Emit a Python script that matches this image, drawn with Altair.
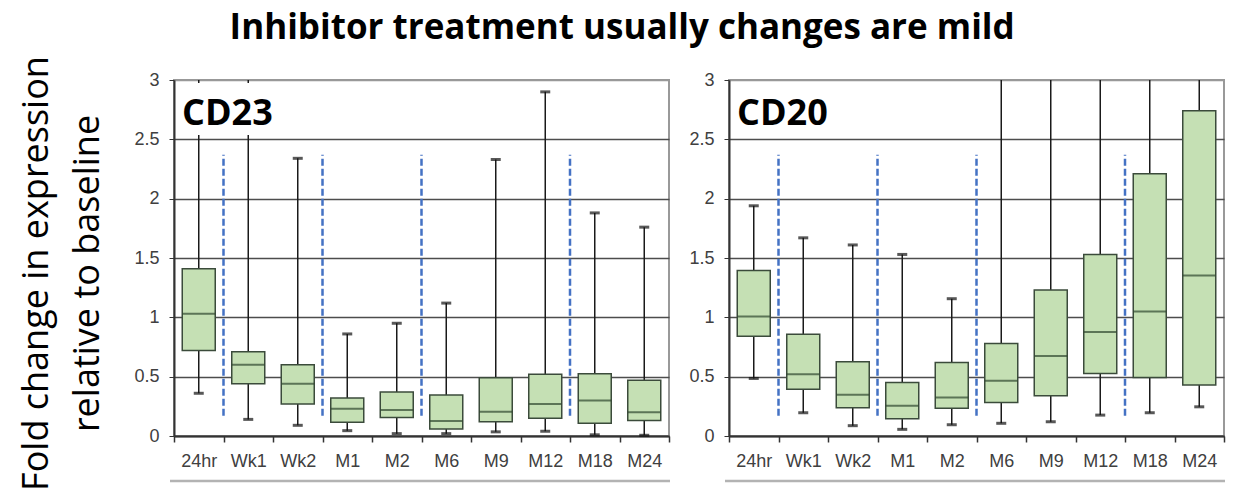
import altair as alt
import pandas as pd

categories = ["24hr", "Wk1", "Wk2", "M1", "M2", "M6", "M9", "M12", "M18", "M24"]

# CD23 box statistics (upper whiskers above 3 run off the top of the plot)
cd23_low = [0.36, 0.14, 0.09, 0.045, 0.02, 0.02, 0.035, 0.04, 0.01, 0.006]
cd23_q1 = [0.72, 0.44, 0.27, 0.115, 0.155, 0.06, 0.12, 0.15, 0.107, 0.13]
cd23_median = [1.03, 0.60, 0.44, 0.23, 0.22, 0.126, 0.205, 0.27, 0.30, 0.20]
cd23_q3 = [1.41, 0.71, 0.60, 0.32, 0.37, 0.345, 0.49, 0.52, 0.525, 0.47]
cd23_high = [3.4, 3.4, 2.34, 0.86, 0.95, 1.12, 2.33, 2.90, 1.88, 1.76]

# CD20 box statistics
cd20_low = [0.485, 0.196, 0.087, 0.056, 0.095, 0.107, 0.12, 0.176, 0.196, 0.246]
cd20_q1 = [0.84, 0.395, 0.238, 0.146, 0.233, 0.283, 0.34, 0.527, 0.493, 0.43]
cd20_median = [1.006, 0.52, 0.347, 0.255, 0.325, 0.465, 0.675, 0.877, 1.05, 1.353]
cd20_q3 = [1.395, 0.857, 0.625, 0.45, 0.62, 0.78, 1.23, 1.53, 2.21, 2.74]
cd20_high = [1.94, 1.67, 1.61, 1.53, 1.157, 3.4, 3.4, 3.4, 3.4, 3.4]

# dashed separators (placed at the left edge of these categories)
period_breaks = ["Wk1", "M1", "M6", "M18"]
break_low = 0.17
break_high = 2.37

y_ticks = [0, 0.5, 1, 1.5, 2, 2.5, 3]

W, H = 495, 356
LABEL_FONT = "Liberation Sans"


def panel(name, low, q1, med, q3, high, with_title):
    df = pd.DataFrame({"cat": categories, "low": low, "q1": q1,
                       "med": med, "q3": q3, "high": high})
    xscale = alt.Scale(domain=categories, paddingInner=0, paddingOuter=0)
    xaxis = alt.Axis(title=None, labelAngle=0, tickBand="extent", grid=False,
                     labelFont=LABEL_FONT, labelFontSize=18, labelColor="#404040",
                     tickSize=6, tickColor="#333333", tickWidth=1.5,
                     domainColor="#333333", domainWidth=2, labelPadding=10)
    yscale = alt.Scale(domain=[0, 3], nice=False)
    yaxis_kw = dict(values=y_ticks, format="~g", grid=True,
                    gridColor=alt.condition("datum.value == 3", alt.value("#999999"), alt.value("#4d4d4d")),
                    gridWidth=1.5, tickSize=5, tickColor="#333333", labelPadding=10,
                    labelFont=LABEL_FONT, labelFontSize=18, labelColor="#404040",
                    domainColor="#333333", domainWidth=2)
    if with_title:
        yaxis = alt.Axis(title=["Fold change in expression", "relative to baseline"],
                         titleFont="Open Sans", titleFontSize=36, titleFontWeight="normal",
                         titleColor="black", titleAngle=270, titleBaseline="alphabetic",
                         titleAlign="center", titleX=-127, titleY=193, titleLineHeight=51,
                         **yaxis_kw)
    else:
        yaxis = alt.Axis(title=None, **yaxis_kw)

    X = alt.X("cat:N", scale=xscale, axis=xaxis)
    base = alt.Chart(df)

    whisk = base.mark_rule(color="#1a1a1a", strokeWidth=1.5, clip=True).encode(
        x=X, y=alt.Y("low:Q", scale=yscale, axis=yaxis), y2="high:Q")
    cap_lo = base.mark_tick(color="#111111", size=10, thickness=3).encode(
        x=X, y=alt.Y("low:Q", scale=yscale))
    cap_hi = base.mark_tick(color="#111111", size=10, thickness=3, clip=True).encode(
        x=X, y=alt.Y("high:Q", scale=yscale))
    box = base.mark_bar(size=33, fill="#c5e0b4", stroke="#3b4b3b", strokeWidth=1.5).encode(
        x=X, y=alt.Y("q1:Q", scale=yscale), y2="q3:Q")
    median = base.mark_tick(color="#2f472f", size=33, thickness=2).encode(
        x=X, y=alt.Y("med:Q", scale=yscale))

    bdf = pd.DataFrame({"cat": period_breaks, "lo": [break_low] * len(period_breaks),
                        "hi": [break_high] * len(period_breaks)})
    breaks = alt.Chart(bdf).mark_rule(color="#4472c4", strokeWidth=2.5, strokeDash=[7, 3]).encode(
        x=alt.X("cat:N", scale=xscale, axis=xaxis, bandPosition=0),
        y=alt.Y("lo:Q", scale=yscale), y2="hi:Q")

    one = pd.DataFrame({"label": [name]})
    mask = alt.Chart(one).mark_rect(fill="white").encode(
        x=alt.value(4), x2=alt.value(106), y=alt.value(3), y2=alt.value(55))
    label = alt.Chart(one).mark_text(font="Open Sans", fontWeight="bold", fontSize=36,
                                     align="left", baseline="alphabetic", color="black").encode(
        x=alt.value(8), y=alt.value(45), text="label:N")
    underline = alt.Chart(one).mark_rule(color="#b3b3b3", strokeWidth=2.5).encode(
        x=alt.value(-4), x2=alt.value(496), y=alt.value(401))

    return alt.layer(breaks, whisk, cap_lo, cap_hi, box, median, mask, label, underline).properties(
        width=W, height=H)


left = panel("CD23", cd23_low, cd23_q1, cd23_median, cd23_q3, cd23_high, True)
right = panel("CD20", cd20_low, cd20_q1, cd20_median, cd20_q3, cd20_high, False)

chart = alt.hconcat(left, right, spacing=14).properties(
    title=alt.TitleParams("Inhibitor treatment usually changes are mild", font="Open Sans",
                          fontSize=35, fontWeight="bold", color="black", anchor="middle",
                          offset=9),
    padding={"left": 16, "top": 10, "right": 5, "bottom": 5},
).configure_view(stroke="#999999", strokeWidth=2)

chart.save("out.html", embed_options={"renderer": "svg", "actions": False})
